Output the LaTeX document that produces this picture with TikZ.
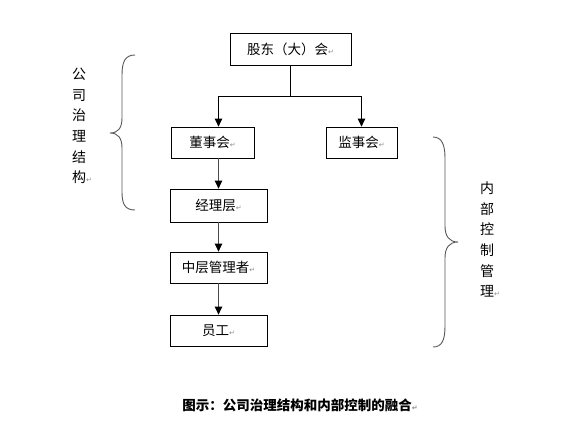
\documentclass[tikz,border=0pt]{standalone}
\usepackage{fontspec}
\setmainfont{Noto Sans CJK SC}
\newfontfamily\djv{DejaVu Sans}
\usetikzlibrary{arrows.meta}
\newcommand\pmk{{\djv\fontsize{7}{7}\selectfont\textcolor{black!45}{↵}}}
\begin{document}
\begin{tikzpicture}[x=1pt,y=-1pt,
  box/.style={draw=black,line width=0.8pt,rectangle,inner sep=0pt,font=\fontsize{13.5}{16}\selectfont},
  arr/.style={line width=0.8pt,-{Triangle[length=8pt,width=7.5pt,color=black]}},
  brace/.style={draw=black!65,line width=0.9pt},
  vtext/.style={align=center,inner sep=0pt,font=\fontsize{14}{20.7}\selectfont}]
\useasboundingbox[fill=white] (0,0) rectangle (565,440);
\node[box,minimum width=121pt,minimum height=32pt] (top) at (290.5,49) {股东（大）会\pmk};
\node[box,minimum width=83pt,minimum height=31pt] (dong) at (212.5,142.5) {董事会\pmk};
\node[box,minimum width=71pt,minimum height=31pt] (jian) at (361.5,142.5) {监事会\pmk};
\node[box,minimum width=97pt,minimum height=33pt] (jl) at (218.5,205.5) {经理层\pmk};
\node[box,minimum width=97pt,minimum height=31pt] (zc) at (218.5,267.5) {中层管理者\pmk};
\node[box,minimum width=97pt,minimum height=31pt] (yg) at (218.5,330.5) {员工\pmk};
\coordinate (split) at (290.5,96);
\draw[line width=0.8pt] (top.south) -- (split);
\draw[arr] (split) -| (dong.north -| jl.north);
\draw[arr] (split) -| (jian.north);
\draw[arr,black!70] (dong.south -| jl.north) -- (jl.north);
\draw[arr,black!70] (jl.south) -- (zc.north);
\draw[arr,black!70] (zc.south) -- (yg.north);
% braces
\draw[brace] (135,55) .. controls (125,55) and (122,62) .. (122,75) -- (122,118)
  .. controls (122,128) and (118,133) .. (110,133)
  .. controls (118,133) and (122,138) .. (122,148) -- (122,192)
  .. controls (122,204) and (125,210) .. (135,210);
\draw[brace] (433,137) .. controls (442,137) and (445,145) .. (445,158) -- (445,226)
  .. controls (445,236) and (449,242) .. (458,242)
  .. controls (449,242) and (445,248) .. (445,258) -- (445,326)
  .. controls (445,340) and (442,347) .. (433,347);
\node[vtext] (lt) at (79,126) {公\\司\\治\\理\\结\\构\rlap{\pmk}};
\node[vtext] (rt) at (487,239.5) {内\\部\\控\\制\\管\\理\rlap{\pmk}};
\node[inner sep=0pt,font=\fontsize{13.5}{16}\selectfont\bfseries] (cap) at (300,405) {图示：公司治理结构和内部控制的融合\pmk};
\end{tikzpicture}
\end{document}
